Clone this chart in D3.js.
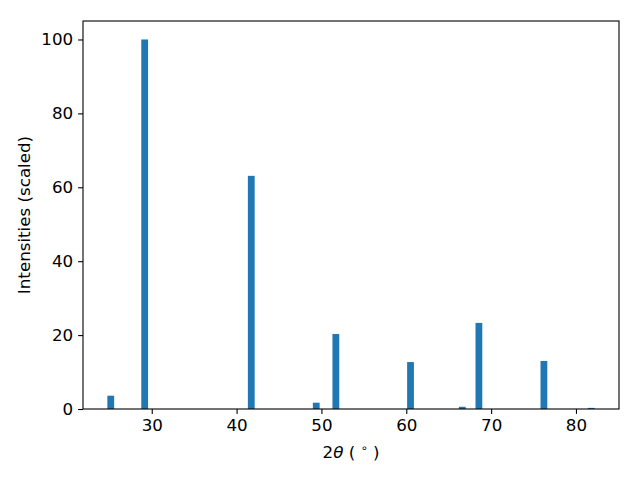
<!DOCTYPE html>
<html><head><meta charset="utf-8">
<script src="https://cdn.jsdelivr.net/npm/d3@7"></script>
<style>body{margin:0;background:#fff}text{font-family:"DejaVu Sans",sans-serif}</style>
</head><body>
<svg id="c" width="640" height="480"></svg>
<script>
const angles = [25.17, 29.17, 41.73, 49.39, 51.7, 60.5, 66.6, 68.56, 76.22, 81.8];
const intensities = [3.6, 100, 63.1, 1.7, 20.3, 12.7, 0.6, 23.3, 13.0, 0.3];
const xTicks = [30, 40, 50, 60, 70, 80];
const yTicks = [0, 20, 40, 60, 80, 100];
const barWidth = 0.8;

const svg = d3.select("#c");
const L = 83, R = 619, T = 21, B = 409;
const xmin = d3.min(angles) - barWidth/2, xmax = d3.max(angles) + barWidth/2;
const xm = (xmax - xmin) * 0.05;
const x = d3.scaleLinear().domain([xmin - xm, xmax + xm]).range([L, R]);
const y = d3.scaleLinear().domain([0, 105]).range([B, T]);

svg.append("g").selectAll("rect").data(angles).join("rect")
  .attr("x", d => x(d - barWidth/2))
  .attr("width", d => x(d + barWidth/2) - x(d - barWidth/2))
  .attr("y", (d, i) => y(intensities[i]))
  .attr("height", (d, i) => y(0) - y(intensities[i]))
  .attr("fill", "#1f77b4");

const fs = "16.7px";
const xa = svg.append("g").attr("transform", `translate(0,${B})`)
  .call(d3.axisBottom(x).tickValues(xTicks).tickSize(4.9).tickPadding(4.9).tickFormat(d3.format("d")));
const ya = svg.append("g").attr("transform", `translate(${L},0)`)
  .call(d3.axisLeft(y).tickValues(yTicks).tickSize(4.9).tickPadding(4.9).tickFormat(d3.format("d")));
[xa, ya].forEach(a => {
  a.attr("font-size", fs).attr("font-family", "DejaVu Sans");
  a.select(".domain").remove();
  a.selectAll("line").attr("stroke", "#000").attr("stroke-width", 1.1);
  a.selectAll("text").attr("font-size", fs).attr("fill", "#000");
});

svg.append("rect").attr("x", L).attr("y", T).attr("width", R - L).attr("height", B - T)
  .attr("fill", "none").attr("stroke", "#000").attr("stroke-width", 1.1);

const xl = svg.append("text").attr("x", (L + R) / 2).attr("y", 458).attr("text-anchor", "middle")
  .attr("font-size", fs).attr("fill", "#000");
xl.append("tspan").text("2");
xl.append("tspan").attr("font-style", "italic").text("θ");
xl.append("tspan").text(" ( ");
xl.append("tspan").attr("font-size", "11.5px").attr("dy", -6).text("∘");
xl.append("tspan").attr("dy", 6).text(" )");

svg.append("text").attr("transform", `translate(30,${(T + B) / 2}) rotate(-90)`)
  .attr("text-anchor", "middle").attr("font-size", fs).attr("fill", "#000")
  .text("Intensities (scaled)");
</script>
</body></html>
